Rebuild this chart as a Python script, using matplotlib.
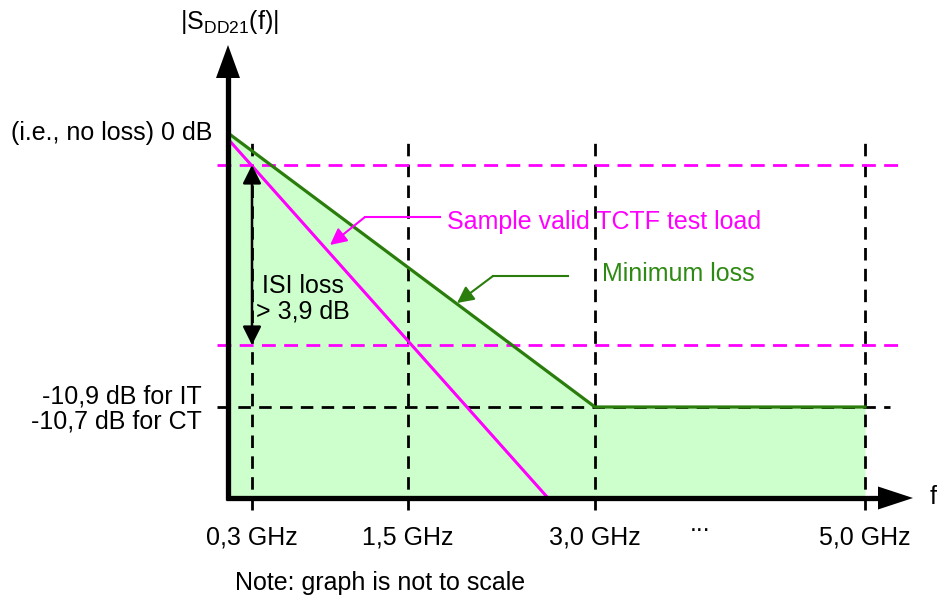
import matplotlib
matplotlib.use('Agg')
import matplotlib.pyplot as plt

plt.rcParams['font.family'] = ['Liberation Sans', 'DejaVu Sans']
plt.rcParams['mathtext.fontset'] = 'custom'
plt.rcParams['mathtext.rm'] = 'Liberation Sans'

# schematic positions (graph is not to scale), origin at the axes crossing
freq_labels = ['0,3 GHz', '1,5 GHz', '3,0 GHz', '5,0 GHz']
freq_pos = [24, 180, 367, 637]

level_0db = 365
mask_levels = [333, 153]   # magenta dashed limits
floor_level = 91          # -10,9 / -10,7 dB

min_loss_x = [0, 367, 637]
min_loss_y = [365, 91, 91]
sample_x = [0, 320]
sample_y = [359, 0]

GREEN = '#2A7D0C'
GREEN_TXT = '#2E8A12'
MAGENTA = '#FF00FF'
FILL = '#CCFFCC'
FS = 18

fig = plt.figure(figsize=(9.4, 6.01), dpi=100)
ax = fig.add_axes([0, 0, 1, 1])
ax.set_xlim(-228, 712)
ax.set_ylim(-103, 498)
ax.axis('off')

# green area under minimum loss curve
ax.fill_between(min_loss_x, min_loss_y, 0, color=FILL, lw=0, zorder=1)

# dashed grid
for x in freq_pos:
    ax.plot([x, x], [-12, 361], color='black', lw=2, dashes=(4.5, 3), zorder=2)
ax.plot([-11, 662], [floor_level, floor_level], color='black', lw=2, dashes=(4.5, 3), zorder=2)
for y in mask_levels:
    ax.plot([-11, 677], [y, y], color=MAGENTA, lw=2, dashes=(5, 3), zorder=2)

# curves
ax.plot(min_loss_x, min_loss_y, color=GREEN, lw=2.3, zorder=4)
ax.plot(sample_x, sample_y, color=MAGENTA, lw=2.2, zorder=4)

# axes with arrowheads
ax.plot([0, 0], [-2, 425], color='black', lw=3.8, solid_capstyle='butt', zorder=6)
ax.plot([-2, 655], [0, 0], color='black', lw=3.8, solid_capstyle='butt', zorder=6)
ax.fill([-12, 12, 0], [420, 420, 453], color='black', lw=0, zorder=6)
ax.fill([650, 650, 685], [11.5, -11.5, 0], color='black', lw=0, zorder=6)

# ISI loss double arrow
ax.annotate('', xy=(freq_pos[0], mask_levels[0]), xytext=(freq_pos[0], mask_levels[1]),
            arrowprops=dict(arrowstyle='<|-|>', color='black', lw=1.8,
                            mutation_scale=28, shrinkA=0, shrinkB=0), zorder=5)
ax.text(75, 199, 'ISI loss\n> 3,9 dB', fontsize=FS, ha='center', va='center',
        linespacing=1.1, zorder=5)

# callouts
ax.plot([212, 137], [281, 281], color=MAGENTA, lw=1.5, zorder=5)
ax.annotate('', xy=(102, 253), xytext=(137, 281),
            arrowprops=dict(arrowstyle='-|>', color=MAGENTA, lw=1.5,
                            mutation_scale=25, shrinkA=0, shrinkB=0), zorder=5)
ax.text(219, 276, 'Sample valid TCTF test load', fontsize=FS, color=MAGENTA,
        ha='left', va='center', zorder=5)

ax.plot([340, 265], [222, 222], color=GREEN, lw=1.5, zorder=5)
ax.annotate('', xy=(229, 195), xytext=(265, 222),
            arrowprops=dict(arrowstyle='-|>', color=GREEN, lw=1.5,
                            mutation_scale=25, shrinkA=0, shrinkB=0), zorder=5)
ax.text(374, 224, 'Minimum loss', fontsize=FS, color=GREEN_TXT,
        ha='left', va='center', zorder=5)

# axis labels
ax.text(1, 476, r'$|\mathrm{S}_{\mathrm{DD21}}(\mathrm{f})|$', fontsize=FS,
        ha='center', va='center')
ax.text(705, 1, 'f', fontsize=FS, ha='center', va='center')
ax.text(-16, level_0db, '(i.e., no loss) 0 dB', fontsize=FS, ha='right', va='center')
ax.text(-26, 89, '-10,9 dB for IT\n-10,7 dB for CT', fontsize=FS, ha='right',
        va='center', multialignment='right', linespacing=1.1)
for x, lab in zip(freq_pos, freq_labels):
    ax.text(x, -40, lab, fontsize=FS, ha='center', va='center')
ax.text(472, -33, '...', fontsize=FS, ha='center', va='baseline')
ax.text(152, -85, 'Note: graph is not to scale', fontsize=FS, ha='center', va='center')

fig.savefig('out.png', dpi=100)
